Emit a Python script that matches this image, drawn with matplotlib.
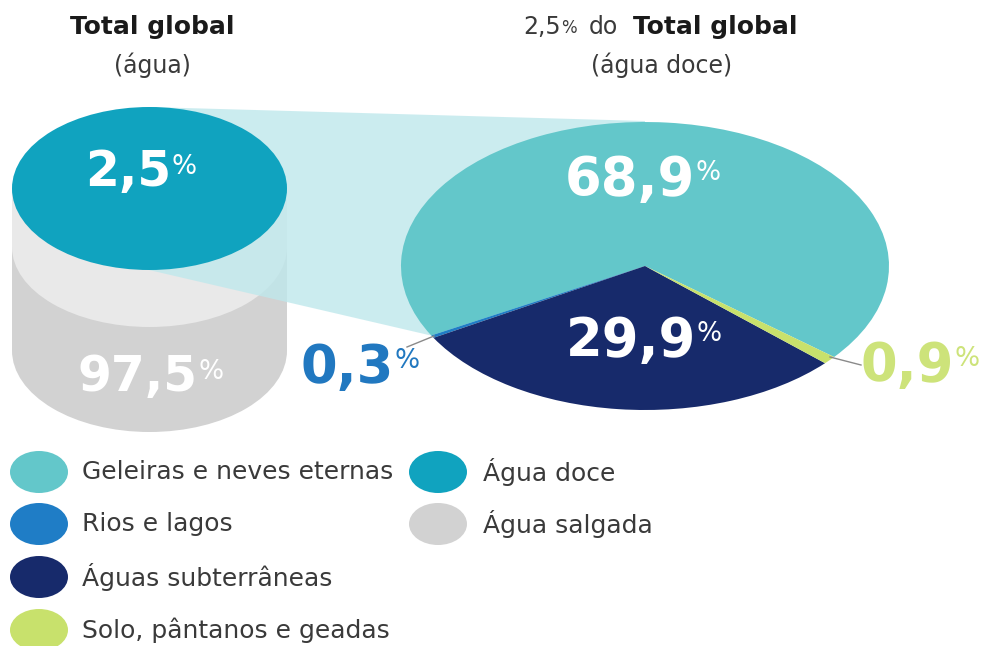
import matplotlib
matplotlib.use('Agg')
import matplotlib.pyplot as plt
from matplotlib.patches import Ellipse, Rectangle, Polygon

plt.rcParams['font.family'] = ['DejaVu Sans']

# distribuição da água doce (%)
doce_labels = ['Geleiras e neves eternas', 'Rios e lagos', 'Águas subterrâneas',
               'Solo, pântanos e geadas']
doce_values = [68.9, 0.3, 29.9, 0.9]
doce_colors = ['#63c7ca', '#1f7dc6', '#172a6b', '#c8e16c']

# total global (%)
total_labels = ['Água doce', 'Água salgada']
total_values = [2.5, 97.5]
total_colors = ['#10a3bf', '#d2d2d2']

TXT = '#3a3a3a'


def fmt(v):
    return f'{v:.1f}'.replace('.', ',')


fig = plt.figure(figsize=(9.85, 6.46), dpi=100)

# fundo em coordenadas de pixel
ax = fig.add_axes([0, 0, 1, 1])
ax.set_xlim(0, 985)
ax.set_ylim(646, 0)
ax.axis('off')

# cilindro
cx, a, b = 149.5, 275, 163
ax.add_patch(Ellipse((cx, 350.5), a, b, color=total_colors[1], lw=0, zorder=1))
ax.add_patch(Rectangle((cx - a / 2, 188.5), a, 162, color=total_colors[1], lw=0, zorder=1))
ax.add_patch(Rectangle((cx - a / 2, 188.5), a, 58.5, color='#e9e9e9', lw=0, zorder=2))
ax.add_patch(Ellipse((cx, 247), a, 160, color='#e9e9e9', lw=0, zorder=2))

# projeção do topo do cilindro até o gráfico de pizza
ax.add_patch(Polygon([(149, 107), (645, 121), (645, 266), (433, 336), (149, 270)],
                     closed=True, color='#bfe8ec', alpha=0.8, lw=0, zorder=3))
ax.add_patch(Ellipse((cx, 188.5), a, b, color=total_colors[0], lw=0, zorder=4))

# pizza elíptica
pax = fig.add_axes([401 / 985, 1 - 410 / 646, 488 / 985, 288 / 646])
start = 320.8
pax.pie(doce_values, colors=doce_colors, startangle=start, counterclock=True,
        radius=1, wedgeprops=dict(linewidth=0))
pax.set_aspect('auto')
pax.set_xlim(-1, 1)
pax.set_ylim(-1, 1)
pax.axis('off')

# camada de textos
tax = fig.add_axes([0, 0, 1, 1])
tax.set_xlim(0, 985)
tax.set_ylim(646, 0)
tax.axis('off')


def big_label(x, y, v, color, size=36):
    t = tax.text(x, y, fmt(v), ha='center', va='center', fontsize=size,
                 fontweight='bold', color=color)
    tax.annotate('%', xy=(1, 0.88), xycoords=t, xytext=(0.5, 0), textcoords='offset points',
                 ha='left', va='top', fontsize=19, color=color)
    return t


big_label(128, 172, total_values[0], 'white', 35)
big_label(138, 377, total_values[1], 'white', 35)
big_label(630, 180, doce_values[0], 'white', 38)
big_label(631, 341, doce_values[2], 'white', 38)
big_label(347, 368, doce_values[1], '#2178c0', 38)
big_label(907, 366, doce_values[3], '#cde37a', 38)

# linhas de chamada
tax.plot([407, 434], [347, 336], color='#8a8a8a', lw=1)
tax.plot([830, 861], [357, 365], color='#8a8a8a', lw=1)

# títulos
tax.text(152, 27, 'Total global', ha='center', va='center', fontsize=18,
         fontweight='bold', color='#1a1a1a')
tax.text(152, 65, '(água)', ha='center', va='center', fontsize=17, color=TXT)

t1 = tax.text(523, 27, fmt(total_values[0]), ha='left', va='center', fontsize=17,
              color=TXT)
tax.annotate('%', xy=(1, 0.85), xycoords=t1, ha='left', va='top', fontsize=12,
             color=TXT)
t3 = tax.annotate('do', xy=(1, 0), xycoords=t1, xytext=(20, 0), textcoords='offset points',
                  ha='left', va='bottom', fontsize=17, color=TXT)
tax.annotate('Total global', xy=(1, 0), xycoords=t3, xytext=(11, 0),
             textcoords='offset points', ha='left', va='bottom', fontsize=18,
             fontweight='bold', color='#1a1a1a')
tax.text(662, 65, '(água doce)', ha='center', va='center', fontsize=17, color=TXT)

# legenda
rows = [472, 524, 577, 630]
for lab, col, y in zip(doce_labels, doce_colors, rows):
    ax.add_patch(Ellipse((39, y), 58, 42, color=col, lw=0, zorder=5))
    tax.text(82, y, lab, ha='left', va='center', fontsize=18, color=TXT)
for lab, col, y in zip(total_labels, total_colors, rows[:2]):
    ax.add_patch(Ellipse((438, y), 58, 42, color=col, lw=0, zorder=5))
    tax.text(483, y, lab, ha='left', va='center', fontsize=18, color=TXT)

fig.savefig('out.png', dpi=100, facecolor='white')
